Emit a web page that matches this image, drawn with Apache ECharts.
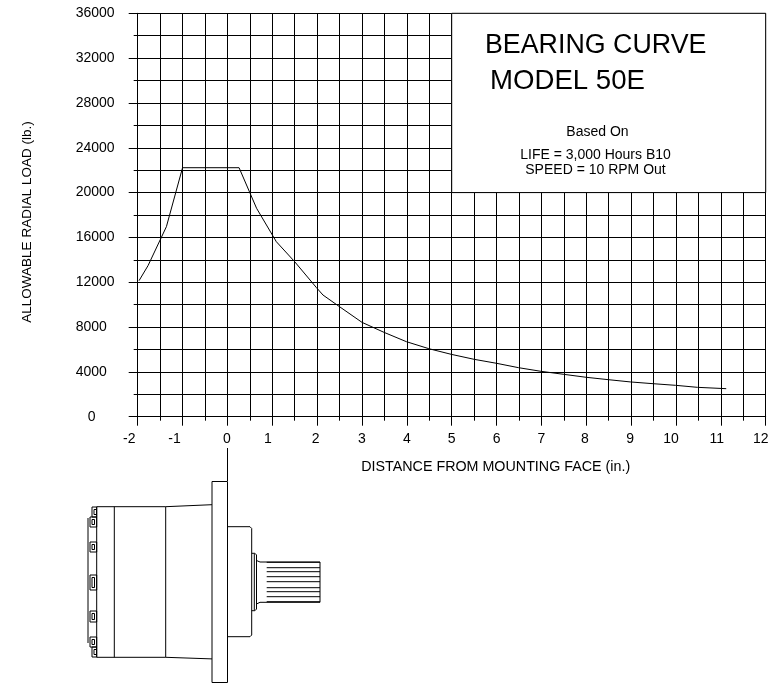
<!DOCTYPE html>
<html><head><meta charset="utf-8">
<style>html,body{margin:0;padding:0;background:#fff}#c{width:778px;height:683px}</style>
<script src="https://cdn.jsdelivr.net/npm/echarts@6/dist/echarts.min.js"></script>
</head><body><div id="c"></div>
<script>
const distance = [-1.97,-1.77,-1.36,-1.0,0.26,0.65,1.09,1.5,1.98,2.13,2.5,3.0,3.49,3.99,4.49,4.99,5.5,6.0,6.49,6.99,7.5,8.0,8.49,8.99,9.49,9.99,10.48,11.12];
const load = [12140,13480,16960,22220,22220,18600,15620,13830,11540,10860,9816,8420,7530,6695,6070,5565,5120,4765,4375,4050,3780,3515,3305,3100,2945,2800,2620,2500];
const titleLines = ['BEARING CURVE','MODEL 50E'];
const noteLines = ['Based On','LIFE = 3,000 Hours B10','SPEED = 10 RPM Out'];
const xName = 'DISTANCE FROM MOUNTING FACE (in.)';
const yName = 'ALLOWABLE RADIAL LOAD (lb.)';
const xLabelShift = {'-2':17,'-1':16,'0':1,'1':9,'2':3,'8':3,'9':2,'10':10,'11':8,'12':10};

const font = 'Liberation Sans';
const INK = '#000';
const rich = {};
Object.keys(xLabelShift).forEach((k,i)=>{rich['p'+i]={fontFamily:font,fontSize:14,color:INK,padding:[0,xLabelShift[k],0,0]};});
const richKeys = Object.keys(xLabelShift);

function txt(text,x,y,size,align){return {type:'text',z:100,style:{text,x,y,fill:INK,font:size+'px "'+font+'"',textAlign:align||'center',textVerticalAlign:'middle'}};}
function pl(points){return {type:'polyline',z:100,shape:{points},style:{stroke:INK,lineWidth:1,fill:null}};}

const boltRows = [[507,517,92],[517,527,90],[542,552,90],[575,590,90],[611,622,90],[637,647,90],[647,657,92]];
const splineRows = [562.3,567.7,571.7,576.7,581.7,587.7,591.7,596.7,601.7];
const motor = [
  pl([[227.5,448],[227.5,481]]),
  {type:'rect',z:100,shape:{x:212,y:481.5,width:15.5,height:201},style:{stroke:INK,lineWidth:1,fill:null}},
  pl([[212,504.7],[165.7,506.7],[96.7,506.7],[96.7,657.3],[165.7,657.3],[212,658.9]]),
  pl([[114.3,506.7],[114.3,657.3]]),
  pl([[165.7,506.7],[165.7,657.3]]),
  pl([[227.7,526.7],[250,526.7],[251.7,528.5],[251.7,635],[250,636.7],[227.7,636.7]]),
  pl([[251.7,553.3],[255,553.3],[256.5,555],[256.5,609],[255,610.7],[251.7,610.7]]),
  pl([[254.3,554],[254.3,610]]),
  pl([[256.5,560.5],[260,562],[320,562],[320,602.3],[260,602.3],[256.5,604]]),
  pl([[88,518],[88,643]])
];
splineRows.forEach(y=>motor.push(pl([[266.7,y],[320,y]])));
boltRows.forEach(b=>{
  motor.push({type:'rect',z:100,shape:{x:b[2],y:b[0],width:96.7-b[2],height:b[1]-b[0]},style:{stroke:INK,lineWidth:1,fill:null}});
  motor.push({type:'rect',z:100,shape:{x:b[2]+2,y:b[0]+2.5,width:2.5,height:b[1]-b[0]-5},style:{stroke:INK,lineWidth:1,fill:null}});
});

const chart = echarts.init(document.getElementById('c'),null,{renderer:'canvas'});
chart.setOption({
  animation:false,
  backgroundColor:'#fff',
  textStyle:{fontFamily:font},
  grid:{left:137.7,right:12.3,top:13.3,bottom:266.3,containLabel:false,outerBoundsMode:'none'},
  xAxis:{type:'value',min:-2,max:12,interval:1,
    name:xName,nameLocation:'middle',nameGap:43,
    nameTextStyle:{fontFamily:font,fontSize:14.3,color:INK,padding:[0,0,0,88]},
    axisLine:{onZero:false,lineStyle:{color:INK,width:1}},
    axisTick:{length:9,inside:false,lineStyle:{color:INK,width:1}},
    minorTick:{show:true,splitNumber:2,length:4,lineStyle:{color:INK,width:1}},
    splitLine:{show:true,lineStyle:{color:INK,width:1}},
    minorSplitLine:{show:true,lineStyle:{color:INK,width:1}},
    axisLabel:{margin:15,fontFamily:font,fontSize:14,color:INK,rich,
      formatter:v=>{const i=richKeys.indexOf(String(v));return i>=0?`{p${i}|${v}}`:String(v);}}
  },
  yAxis:{type:'value',min:0,max:36000,interval:4000,
    name:yName,nameLocation:'middle',nameGap:103,nameRotate:90,
    nameTextStyle:{fontFamily:font,fontSize:13.5,color:INK,padding:[0,14,0,0]},
    axisLine:{onZero:false,lineStyle:{color:INK,width:1}},
    axisTick:{length:9,lineStyle:{color:INK,width:1}},
    minorTick:{show:true,splitNumber:2,length:4,lineStyle:{color:INK,width:1}},
    splitLine:{show:true,lineStyle:{color:INK,width:1}},
    minorSplitLine:{show:true,lineStyle:{color:INK,width:1}},
    axisLabel:{margin:62,align:'left',fontFamily:font,fontSize:14,color:INK,
      rich:{zero:{fontFamily:font,fontSize:14,color:INK,padding:[0,0,0,12]}},
      formatter:v=>v===0?'{zero|0}':String(v)}
  },
  series:[{
    type:'line',symbol:'none',silent:true,
    data:distance.map((d,i)=>[d,load[i]]),
    lineStyle:{color:INK,width:1},
    markArea:{silent:true,
      itemStyle:{color:'#fff',borderColor:INK,borderWidth:1,opacity:1},
      data:[[{coord:[5,20000]},{coord:[12,36000]}]]}
  }],
  graphic:[
    txt(titleLines[0],485,46,26.8,'left'),
    txt(titleLines[1],490,81,27.6,'left'),
    txt(noteLines[0],597.5,132,14),
    txt(noteLines[1],595.5,155,14),
    txt(noteLines[2],595.5,170,14),
    ...motor
  ]
});
</script></body></html>
